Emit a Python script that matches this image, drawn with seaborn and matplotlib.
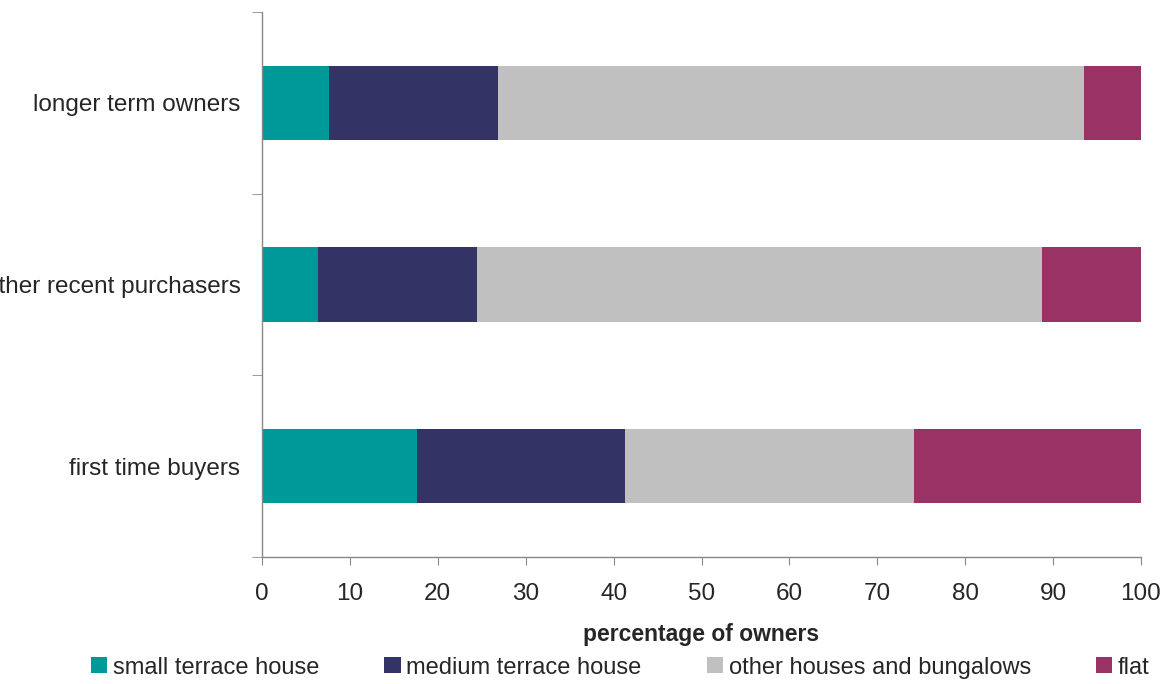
import pandas as pd
import numpy as np
import matplotlib.pyplot as plt
import seaborn as sns
from matplotlib.ticker import FixedLocator

# datos (porcentaje de propietarios)
groups = ['longer term owners', 'other recent purchasers', 'first time buyers']
small_terrace = [7.6, 6.4, 17.6]
medium_terrace = [19.2, 18.1, 23.7]
other_houses = [66.7, 64.2, 32.9]
flat = [6.5, 11.3, 25.8]

series_names = ['small terrace house', 'medium terrace house',
                'other houses and bungalows', 'flat']
colors = ['#009999', '#333366', '#C0C0C0', '#993366']

df = pd.DataFrame({'group': groups,
                   series_names[0]: small_terrace,
                   series_names[1]: medium_terrace,
                   series_names[2]: other_houses,
                   series_names[3]: flat})

# acumulados para apilar
cum = df[series_names].cumsum(axis=1)
cum['group'] = df['group']

sns.set_style('white')
plt.rcParams['font.family'] = ['Liberation Sans', 'DejaVu Sans']

fig = plt.figure(figsize=(11.66, 6.84), dpi=100)
ax = fig.add_axes([262 / 1166, 1 - 557 / 684, (1141 - 262) / 1166, (557 - 12) / 684])

# se dibuja del total hacia atras
for name, col in reversed(list(zip(series_names, colors))):
    sns.barplot(data=cum, x=name, y='group', color=col, width=0.41,
                ax=ax, label=name, saturation=1, linewidth=0)

ax.set_xlim(0, 100)
ax.set_ylim(2.5, -0.5)
ax.set_xticks(np.arange(0, 101, 10))
ax.tick_params(axis='x', labelsize=17.5, length=6, color='#888888', pad=13,
               direction='out', bottom=True)
ax.tick_params(axis='y', which='major', labelsize=17.5, length=0, pad=15.5)
ax.yaxis.set_minor_locator(FixedLocator([-0.5, 0.5, 1.5, 2.5]))
ax.tick_params(axis='y', which='minor', length=7, color='#888888',
               direction='out', left=True)
for s in ['top', 'right']:
    ax.spines[s].set_visible(False)
for s in ['left', 'bottom']:
    ax.spines[s].set_color('#888888')
    ax.spines[s].set_linewidth(1)

ax.set_ylabel('')
ax.set_xlabel('percentage of owners', fontsize=16.5, fontweight='bold', labelpad=13)

handles, labels = ax.get_legend_handles_labels()
if ax.legend_:
    ax.legend_.remove()
fig.legend(handles[::-1], labels[::-1], loc='center', bbox_to_anchor=(0.532, 0.024),
           ncol=4, frameon=False, fontsize=17, handlelength=0.68, handleheight=0.68,
           handletextpad=0.25, columnspacing=2.75, borderaxespad=0)

fig.savefig('out.png', dpi=100)
